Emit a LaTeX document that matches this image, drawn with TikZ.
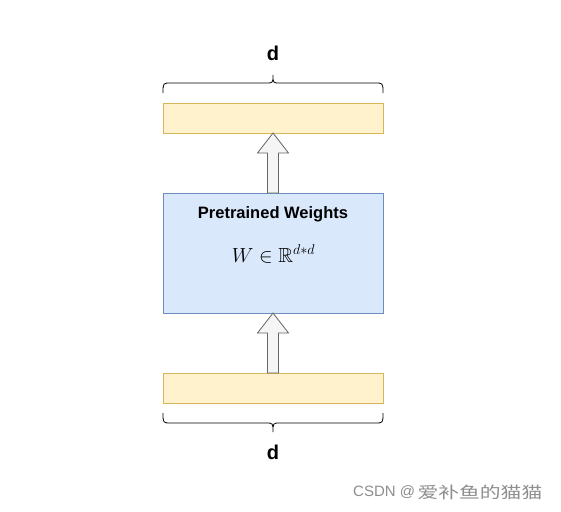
\documentclass[tikz,border=0pt]{standalone}
\usepackage{fontspec}
\usepackage{amssymb}
\newfontfamily\arialfont{Liberation Sans}
\newfontfamily\cjkfont{Noto Sans CJK SC}
\usetikzlibrary{calc}
\definecolor{yfill}{HTML}{FFF2CC}
\definecolor{ystroke}{HTML}{D6B656}
\definecolor{bfill}{HTML}{DAE8FC}
\definecolor{bstroke}{HTML}{6C8EBF}
\definecolor{afill}{HTML}{F5F5F5}
\definecolor{astroke}{HTML}{666666}
\definecolor{wmgray}{HTML}{8E8E8E}
\tikzset{
  bar/.style={draw=ystroke, fill=yfill, line width=0.8pt, minimum width=220pt, minimum height=30pt, inner sep=0pt, outer sep=0pt, anchor=north west},
  wbox/.style={draw=bstroke, fill=bfill, line width=0.8pt, minimum width=220pt, minimum height=120pt, inner sep=0pt, outer sep=0pt, anchor=north west},
  blockarr/.style={draw=astroke, fill=afill, line width=0.8pt, line join=miter},
  bracestyle/.style={draw=black, line width=0.8pt},
  dlabel/.style={font=\arialfont\bfseries\fontsize{20}{24}\selectfont, inner sep=0pt},
  titlestyle/.style={font=\arialfont\bfseries\fontsize{16.5}{20}\selectfont, inner sep=0pt},
  mathstyle/.style={font=\fontsize{17.28}{22}\selectfont, inner sep=0pt},
  wmstyle/.style={text=wmgray, inner sep=0pt, anchor=west}
}
\begin{document}
\begin{tikzpicture}[x=1pt,y=-1pt]
\useasboundingbox[fill=white] (0,0) rectangle (561,511);
% bars and box
\node[bar] (topbar) at (163,103) {};
\node[wbox] (W) at (163,193) {};
\node[bar] (botbar) at (163,373) {};
% texts
\node[titlestyle] (title) at (273,214) {Pretrained Weights};
\node[mathstyle] (eq) at (273.5,254) {\scalebox{1.18}{$W\in\mathbb{R}^{d*d}$}};
\node[dlabel] (dtop) at (273,53) {d};
\node[dlabel] (dbot) at (273,452) {d};
% block arrows
\draw[blockarr] ($(W.north)+(-5.5,0)$) -- ($(topbar.south)+(-5.5,20)$) -- ($(topbar.south)+(-15.5,20)$) -- (topbar.south) -- ($(topbar.south)+(15.5,20)$) -- ($(topbar.south)+(5.5,20)$) -- ($(W.north)+(5.5,0)$) -- cycle;
\draw[blockarr] ($(botbar.north)+(-5.5,0)$) -- ($(W.south)+(-5.5,20)$) -- ($(W.south)+(-15.5,20)$) -- (W.south) -- ($(W.south)+(15.5,20)$) -- ($(W.south)+(5.5,20)$) -- ($(botbar.north)+(5.5,0)$) -- cycle;
% braces
\coordinate (tl) at ($(topbar.north west)+(0,-10)$);
\coordinate (tr) at ($(topbar.north east)+(0,-10)$);
\coordinate (tt) at ($(topbar.north)+(0,-28)$);
\draw[bracestyle] (tl) .. controls ($(tl)+(0,-10)$) and ($(tl)+(0,-10)$) .. ($(tl)+(8,-10)$)
  -- ($(tt)+(-7,8)$) .. controls ($(tt)+(0,8)$) and ($(tt)+(0,8)$) .. (tt)
  .. controls ($(tt)+(0,8)$) and ($(tt)+(0,8)$) .. ($(tt)+(7,8)$)
  -- ($(tr)+(-8,-10)$) .. controls ($(tr)+(0,-10)$) and ($(tr)+(0,-10)$) .. (tr);
\coordinate (bl) at ($(botbar.south west)+(0,10)$);
\coordinate (br) at ($(botbar.south east)+(0,10)$);
\coordinate (bt) at ($(botbar.south)+(0,29)$);
\draw[bracestyle] (bl) .. controls ($(bl)+(0,10)$) and ($(bl)+(0,10)$) .. ($(bl)+(8,10)$)
  -- ($(bt)+(-7,-9)$) .. controls ($(bt)+(0,-9)$) and ($(bt)+(0,-9)$) .. (bt)
  .. controls ($(bt)+(0,-9)$) and ($(bt)+(0,-9)$) .. ($(bt)+(7,-9)$)
  -- ($(br)+(-8,10)$) .. controls ($(br)+(0,10)$) and ($(br)+(0,10)$) .. (br);
% watermark
\node[wmstyle, font=\arialfont\fontsize{15}{18}\selectfont] (wm1) at (353,492) {CSDN @};
\node[wmstyle, font=\cjkfont\fontsize{16}{18}\selectfont] (wm2) at ($(wm1.east)+(2,0)$) {\scalebox{1.3}[1]{爱补鱼的猫猫}};
\end{tikzpicture}
\end{document}
